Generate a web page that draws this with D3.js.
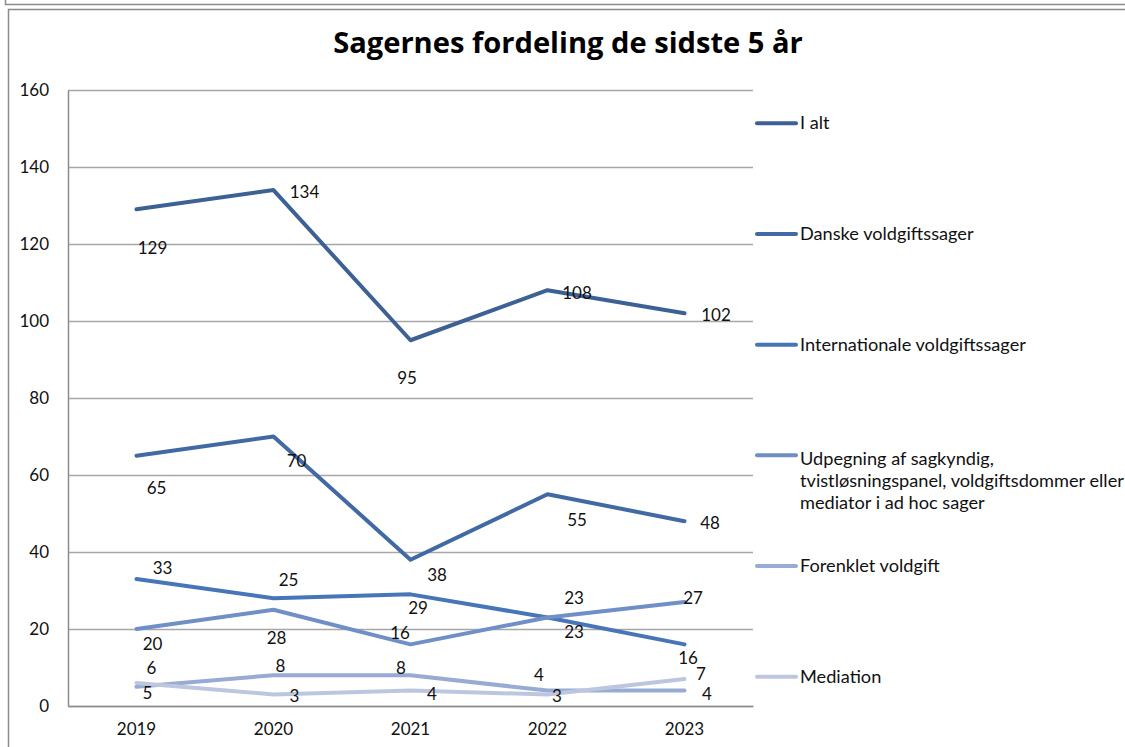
<!DOCTYPE html>
<html><head><meta charset="utf-8">
<script src="https://cdn.jsdelivr.net/npm/d3@7"></script>
<style>
html,body{margin:0;padding:0;background:#fff;}
svg{display:block;font-family:Lato,"Open Sans",sans-serif;}
</style></head>
<body>
<svg id="c" width="1125" height="747"></svg>
<script>
const years = ["2019","2020","2021","2022","2023"];
const seriesNames = [
  "I alt",
  "Danske voldgiftssager",
  "Internationale voldgiftssager",
  "Udpegning af sagkyndig, tvistløsningspanel, voldgiftsdommer eller mediator i ad hoc sager",
  "Forenklet voldgift",
  "Mediation"
];
const legendLines = [
  ["I alt"],
  ["Danske voldgiftssager"],
  ["Internationale voldgiftssager"],
  ["Udpegning af sagkyndig,","tvistløsningspanel, voldgiftsdommer eller","mediator i ad hoc sager"],
  ["Forenklet voldgift"],
  ["Mediation"]
];
const iAlt        = [129,134,95,108,102];
const danske      = [65,70,38,55,48];
const internat    = [33,28,29,23,16];
const udpegning   = [20,25,16,23,27];
const forenklet   = [5,8,8,4,4];
const mediation   = [6,3,4,3,7];
const yTicks      = [0,20,40,60,80,100,120,140,160];
const title = "Sagernes fordeling de sidste 5 år";

// styles / label nudges (px offsets from the point)
const colors = ["#3d6194","#4169a3","#4675b8","#6f8fc6","#97abd4","#bcc7df"];
const labelOffsets = [
  [[16,38.6],[31,1],[-3.5,37.7],[29.5,1.8],[31.5,0.7]],
  [[20,32],[23,23.5],[26.5,14.3],[29.5,25.7],[25.5,0.8]],
  [[26,-11],[3,38.8],[7.5,13.6],[26.5,14.5],[3.5,12.6]],
  [[16,14],[15,-30.7],[-10.5,-12.4],[26.5,-20.4],[8.5,-5]],
  [[11,6.2],[7,-10.2],[-9.5,-8.2],[-8.5,-16.6],[22.5,2.4]],
  [[15,-15.9],[21,1.5],[21.5,2.4],[9.5,1.5],[16.5,-6]]
];

const allSeries = [iAlt,danske,internat,udpegning,forenklet,mediation];
const svg = d3.select("#c");

// frames
svg.append("path").attr("d","M5.5,0 V4.5 H1125").attr("fill","none").attr("stroke","#8c8c8c").attr("stroke-width",1.5);
svg.append("path").attr("d","M8.5,747 V9.5 H1125").attr("fill","none").attr("stroke","#8c8c8c").attr("stroke-width",1.5);

const pL=68, pR=753, pT=90, pB=706;
const x = d3.scaleBand().domain(years).range([pL,pR]);
const y = d3.scaleLinear().domain([0,160]).range([pB,pT]);
const cx = d => x(d)+x.bandwidth()/2;

// gridlines
svg.append("g").selectAll("line").data(yTicks).join("line")
  .attr("x1",pL).attr("x2",pR)
  .attr("y1",d=>Math.round(y(d))+0.5).attr("y2",d=>Math.round(y(d))+0.5)
  .attr("stroke","#a6a6a6").attr("stroke-width",1.3);

// y axis
const yAxis = svg.append("g").attr("transform",`translate(${pL},0)`)
  .call(d3.axisLeft(y).tickValues(yTicks).tickSize(0).tickPadding(19).tickFormat(d3.format("d")));
yAxis.select(".domain").attr("stroke","#8c8c8c").attr("stroke-width",1.5);
yAxis.selectAll("text").attr("font-size",17).attr("fill","#111").attr("font-family","Lato");

// x axis
const xAxis = svg.append("g").attr("transform",`translate(0,${pB})`)
  .call(d3.axisBottom(x).tickSize(0).tickPadding(17));
xAxis.select(".domain").attr("stroke","#8c8c8c").attr("stroke-width",1.5);
xAxis.selectAll("text").attr("font-size",17).attr("fill","#111").attr("font-family","Lato");

// lines
const line = d3.line().x((d,i)=>cx(years[i])).y(d=>y(d));
allSeries.forEach((s,k)=>{
  svg.append("path").datum(s).attr("d",line).attr("fill","none")
    .attr("stroke",colors[k]).attr("stroke-width",4)
    .attr("stroke-linejoin","round").attr("stroke-linecap","round");
});

// data labels
allSeries.forEach((s,k)=>{
  svg.append("g").selectAll("text").data(s).join("text")
    .attr("x",(d,i)=>cx(years[i])+labelOffsets[k][i][0])
    .attr("y",(d,i)=>y(d)+labelOffsets[k][i][1])
    .attr("text-anchor","middle").attr("dominant-baseline","central")
    .attr("font-size",17).attr("fill","#111")
    .text(d=>d);
});

// legend
const legY = d3.scalePoint().domain(seriesNames).range([123.3,676.7]);
// fit legend font so "Internationale voldgiftssager" spans ~226px
const probe = svg.append("text").attr("font-size",17).text(legendLines[2][0]);
const legFont = Math.min(19, 17*226/probe.node().getComputedTextLength());
probe.remove();
seriesNames.forEach((n,k)=>{
  const ly = legY(n);
  svg.append("line").attr("x1",757).attr("x2",796).attr("y1",ly).attr("y2",ly)
    .attr("stroke",colors[k]).attr("stroke-width",4).attr("stroke-linecap","round");
  const t = svg.append("text").attr("x",800).attr("y",ly+6).attr("font-size",legFont).attr("fill","#111");
  legendLines[k].forEach((ln,j)=>{
    t.append("tspan").attr("x",800).attr("dy",j===0?(legendLines[k].length>1?4:0):21.7).text(ln);
  });
});

// title, fitted to ~470px wide
const tt = svg.append("text").attr("x",568).attr("y",53).attr("text-anchor","middle")
  .attr("font-family","'Open Sans'").attr("font-size",26).attr("font-weight","bold").attr("fill","#000").text(title);
const tw = tt.node().getComputedTextLength();
tt.attr("font-size", 26*470/tw);
</script>
</body></html>
